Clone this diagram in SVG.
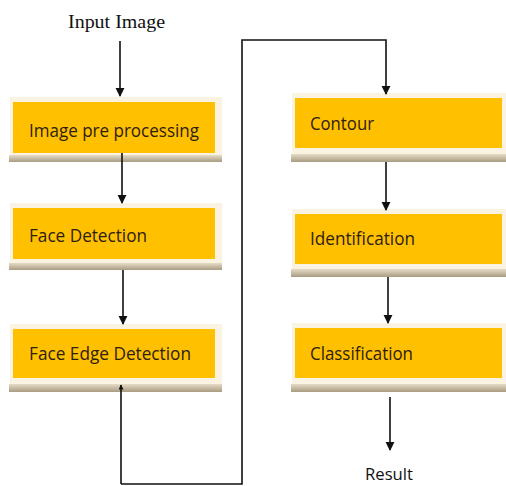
<svg xmlns="http://www.w3.org/2000/svg" width="506" height="486" viewBox="0 0 506 486">
<defs>
<marker id="ah" viewBox="0 0 10 10" refX="9" refY="5" markerWidth="9" markerHeight="13" orient="auto" markerUnits="userSpaceOnUse">
<path d="M0,0 L10,5 L0,10 Z" fill="#111"/>
</marker>
<marker id="ahs" viewBox="0 0 10 10" refX="9" refY="5" markerWidth="6" markerHeight="5" orient="auto" markerUnits="userSpaceOnUse">
<path d="M0,0 L10,5 L0,10 Z" fill="#111"/>
</marker>
<linearGradient id="sh" x1="0" y1="0" x2="0" y2="1">
<stop offset="0" stop-color="#e6dcc6"/>
<stop offset="1" stop-color="#a89b82"/>
</linearGradient>
</defs>
<style>
.frame{fill:#faf3e2}
.shadow{fill:url(#sh)}
.box{fill:#ffc000}
.lbl{font-family:"Open Sans","Noto Sans",sans-serif;font-size:18px;fill:#2e2010}
.ext{font-family:"Liberation Serif",serif;font-size:19px;fill:#111}
.ext2{font-family:"Open Sans","Noto Sans",sans-serif;font-size:16px;fill:#111}
.c{fill:none;stroke:#111;stroke-width:1.6}
</style>
<rect width="506" height="486" fill="#fff"/>
<text class="ext" x="68" y="28" textLength="97" lengthAdjust="spacingAndGlyphs">Input Image</text>
<g id="n1">
<rect class="frame" x="10" y="97" width="212" height="61"/>
<rect class="shadow" x="9" y="155" width="213" height="7"/>
<rect class="box" x="13" y="102" width="202" height="51"/>
<text class="lbl" x="29" y="137" textLength="170" lengthAdjust="spacingAndGlyphs">Image pre processing</text>
</g>
<g id="n2">
<rect class="frame" x="10" y="203" width="212" height="62"/>
<rect class="shadow" x="9" y="263" width="213" height="7"/>
<rect class="box" x="13" y="208" width="202" height="51"/>
<text class="lbl" x="29" y="242" textLength="118" lengthAdjust="spacingAndGlyphs">Face Detection</text>
</g>
<g id="n3">
<rect class="frame" x="10" y="324" width="212" height="62"/>
<rect class="shadow" x="9" y="384" width="213" height="8"/>
<rect class="box" x="13" y="329" width="202" height="49"/>
<text class="lbl" x="29" y="360" textLength="162" lengthAdjust="spacingAndGlyphs">Face Edge Detection</text>
</g>
<g id="n4">
<rect class="frame" x="292" y="93" width="214" height="62"/>
<rect class="shadow" x="291" y="154" width="215" height="8"/>
<rect class="box" x="295" y="98" width="207" height="50"/>
<text class="lbl" x="310" y="130" textLength="64" lengthAdjust="spacingAndGlyphs">Contour</text>
</g>
<g id="n5">
<rect class="frame" x="292" y="209" width="214" height="62"/>
<rect class="shadow" x="291" y="269" width="215" height="8"/>
<rect class="box" x="295" y="214" width="207" height="50"/>
<text class="lbl" x="310" y="245" textLength="105" lengthAdjust="spacingAndGlyphs">Identification</text>
</g>
<g id="n6">
<rect class="frame" x="292" y="323" width="214" height="62"/>
<rect class="shadow" x="291" y="384" width="215" height="8"/>
<rect class="box" x="295" y="328" width="207" height="50"/>
<text class="lbl" x="310" y="360" textLength="103" lengthAdjust="spacingAndGlyphs">Classification</text>
</g>
<text class="ext2" x="365" y="480" textLength="48" lengthAdjust="spacingAndGlyphs">Result</text>
<g id="connectors">
<line class="c" x1="120" y1="41" x2="120" y2="96" marker-end="url(#ah)"/>
<line class="c" x1="122" y1="153" x2="122" y2="203" marker-end="url(#ah)"/>
<line class="c" x1="123" y1="270" x2="123" y2="324" marker-end="url(#ah)"/>
<polyline class="c" points="121,484 242,484 242,40 386,40 386,94" marker-end="url(#ah)"/>
<line class="c" x1="121" y1="484" x2="121" y2="385" marker-end="url(#ahs)"/>
<line class="c" x1="386" y1="162" x2="386" y2="210" marker-end="url(#ah)"/>
<line class="c" x1="388" y1="277" x2="388" y2="323" marker-end="url(#ah)"/>
<line class="c" x1="390" y1="397" x2="390" y2="450" marker-end="url(#ah)"/>
</g>
</svg>
